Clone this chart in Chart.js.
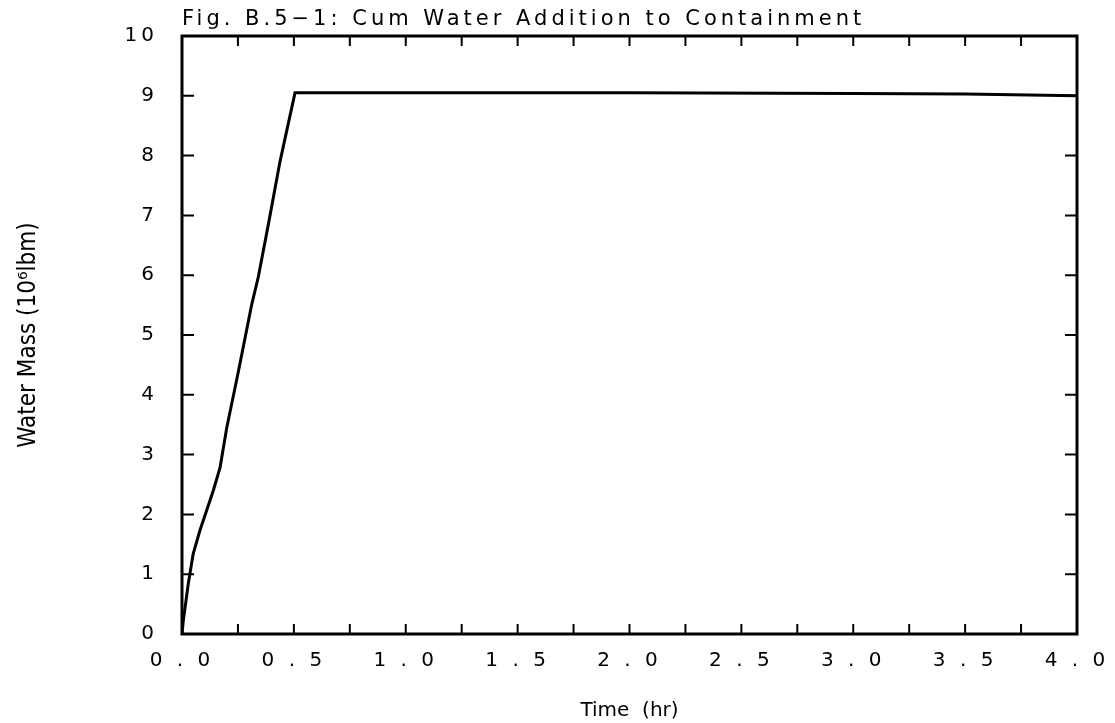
<!DOCTYPE html>
<html>
<head>
<meta charset="utf-8">
<script src="https://cdn.jsdelivr.net/npm/chart.js@4"></script>
<style>
  body { margin: 0; background: #fff; }
</style>
</head>
<body>
<canvas id="water" width="1115" height="723"></canvas>
<script>
// time (hr) and cumulative water mass (10^6 lbm)
const timeHr = [0, 0.006, 0.028, 0.05, 0.08, 0.14, 0.17, 0.2, 0.252, 0.311, 0.341, 0.386, 0.438, 0.505, 1.0, 2.0, 3.0, 3.5, 4.0];
const waterMass = [0, 0.23, 0.84, 1.34, 1.73, 2.4, 2.78, 3.45, 4.39, 5.5, 5.97, 6.85, 7.9, 9.05, 9.05, 9.05, 9.04, 9.03, 9.0];

const xTickLabels = ['0.0', '0.5', '1.0', '1.5', '2.0', '2.5', '3.0', '3.5', '4.0'];
const yTickLabels = ['0', '1', '2', '3', '4', '5', '6', '7', '8', '9', '10'];

const font = 'DejaVu Sans';
const narrow = '"DejaVu Sans Condensed", "Liberation Sans Narrow", "Roboto Condensed", "DejaVu Sans"';

// old plotter look: ticks inside the frame on all four sides,
// letter-spaced title and tick labels, plain axis titles (drawn at z 1)
const frameTicks = {
    id: 'frameTicks',
    beforeDraw(chart) {
        chart.ctx.letterSpacing = '4px';
    },
    afterDatasetsDraw(chart) {
        const { ctx, chartArea: a, scales: { x, y } } = chart;
        ctx.save();
        ctx.strokeStyle = '#000';
        ctx.lineWidth = 2;
        ctx.beginPath();
        x.ticks.forEach(t => {
            const px = x.getPixelForValue(t.value);
            ctx.moveTo(px, a.bottom); ctx.lineTo(px, a.bottom - 10);
            ctx.moveTo(px, a.top); ctx.lineTo(px, a.top + 10);
        });
        y.ticks.forEach(t => {
            const py = y.getPixelForValue(t.value);
            ctx.moveTo(a.left, py); ctx.lineTo(a.left + 12, py);
            ctx.moveTo(a.right, py); ctx.lineTo(a.right - 12, py);
        });
        ctx.stroke();
        ctx.lineWidth = 3;
        ctx.strokeRect(a.left, a.top, a.width, a.height);
        ctx.restore();
        ctx.letterSpacing = '0px';
    },
    afterDraw(chart) {
        chart.ctx.letterSpacing = '0px';
    }
};

new Chart(document.getElementById('water'), {
    type: 'line',
    data: {
        datasets: [{
            data: timeHr.map((t, i) => ({ x: t, y: waterMass[i] })),
            borderColor: '#000',
            borderWidth: 3,
            pointRadius: 0,
            tension: 0,
            fill: false
        }]
    },
    options: {
        responsive: false,
        animation: false,
        layout: { padding: { top: 0, right: 38, bottom: 0, left: 0 } },
        plugins: {
            legend: { display: false },
            tooltip: { enabled: false },
            title: {
                display: true,
                text: 'Fig. B.5\u22121: Cum Water Addition to Containment',
                align: 'start',
                fullSize: false,
                color: '#000',
                font: { family: font, size: 21, weight: 'normal', lineHeight: 1.2 },
                padding: { top: 3, bottom: 4 }
            }
        },
        scales: {
            x: {
                type: 'linear',
                min: 0,
                max: 4,
                afterFit(scale) { scale.height = 89; },
                ticks: {
                    stepSize: 0.25,
                    autoSkip: false,
                    maxRotation: 0,
                    padding: 15,
                    color: '#000',
                    font: { family: font, size: 20 },
                    callback(value) {
                        const k = value * 2;
                        if (Math.abs(k - Math.round(k)) > 1e-6) return '';
                        return xTickLabels[Math.round(k)].split('').join(' ');
                    }
                },
                grid: { display: false, drawTicks: false, z: 1 },
                border: { display: false },
                title: {
                    display: true,
                    text: 'Time  (hr)',
                    color: '#000',
                    font: { family: font, size: 20 },
                    padding: { top: 0, bottom: 0 }
                }
            },
            y: {
                min: 0,
                max: 10,
                afterFit(scale) { scale.width = 182; },
                ticks: {
                    stepSize: 1,
                    padding: 24,
                    color: '#000',
                    font: { family: font, size: 20 },
                    callback(value) {
                        return yTickLabels[value];
                    }
                },
                grid: { display: false, drawTicks: false, z: 1 },
                border: { display: false },
                title: {
                    display: true,
                    text: 'Water Mass (10\u2076lbm)',
                    color: '#000',
                    font: { family: narrow, size: 24 },
                    padding: { top: 14, bottom: 0 }
                }
            }
        }
    },
    plugins: [frameTicks]
});
</script>
</body>
</html>
